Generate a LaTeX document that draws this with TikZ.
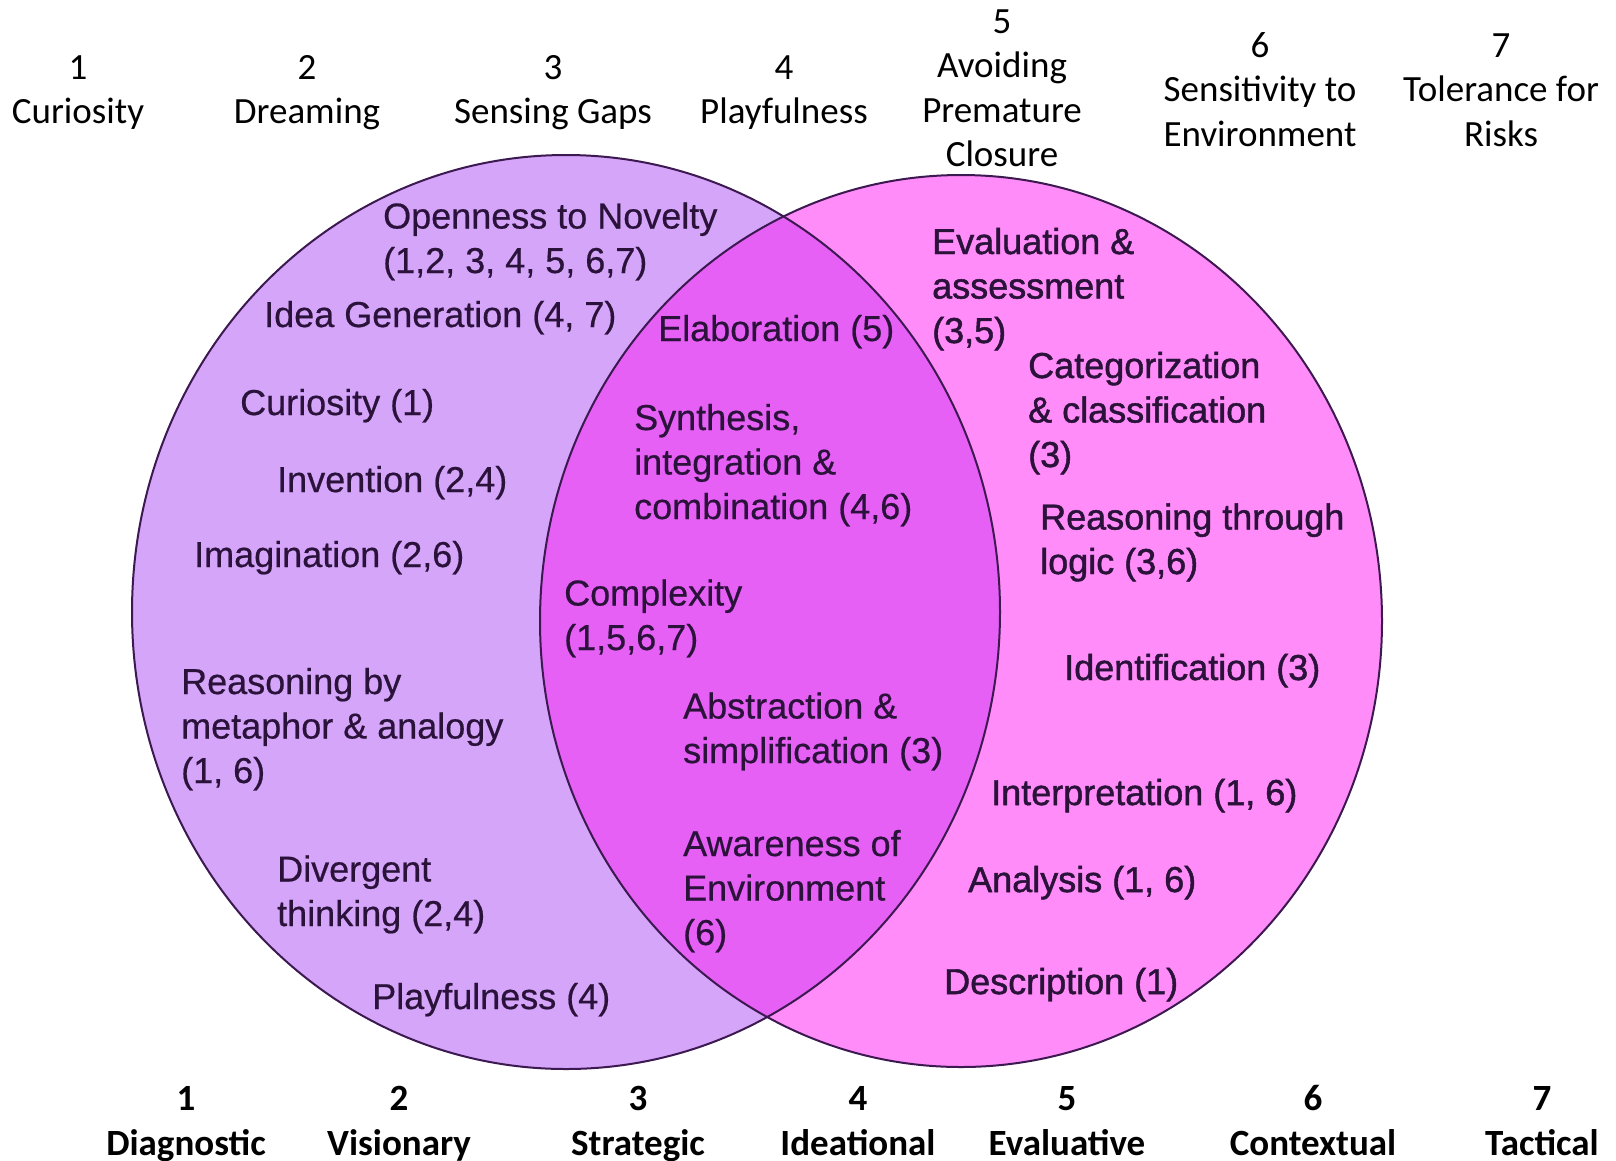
\documentclass[tikz,border=0pt]{standalone}
\usepackage{fontspec}
\setmainfont{Carlito}
\newfontfamily\arialf[FakeBold=0.5]{Liberation Sans}
\newfontfamily\arialfb[FakeBold=1.3]{Liberation Sans}
\definecolor{leftfill}{RGB}{213,165,250}
\definecolor{midfill}{RGB}{230,96,246}
\definecolor{rightfill}{RGB}{255,140,248}
\definecolor{edgec}{RGB}{60,25,80}
\definecolor{textc}{RGB}{42,18,58}
\begin{document}
\begin{tikzpicture}[x=1pt,y=-1pt,
  toplab/.style={align=center,inner sep=0pt,anchor=base,font=\fontsize{37}{44.5}\selectfont},
  botlab/.style={align=center,inner sep=0pt,anchor=base,font=\fontsize{37}{44.5}\selectfont\bfseries},
  intxt/.style={align=left,inner sep=0pt,anchor=base west,text=textc,font=\arialf\fontsize{36}{44.5}\selectfont},
  rtxt/.style={intxt,font=\arialfb\fontsize{36}{44.5}\selectfont},
  ring/.style={draw=edgec,line width=2pt}]
\useasboundingbox (0,0) rectangle (1616,1160);
\fill[white] (0,0) rectangle (1616,1160);
% circles
\coordinate (cl) at (566,612);
\coordinate (cr) at (961,621);
\fill[leftfill] (cl) ellipse[x radius=434,y radius=457];
\fill[rightfill] (cr) ellipse[x radius=421,y radius=446];
\begin{scope}
  \clip (cl) ellipse[x radius=434,y radius=457];
  \fill[midfill] (cr) ellipse[x radius=421,y radius=446];
\end{scope}
\draw[ring] (cl) ellipse[x radius=434,y radius=457];
\draw[ring] (cr) ellipse[x radius=421,y radius=446];
% top labels (anchor = baseline of last line)
\node[toplab] (t1) at (78,123.5) {1\\Curiosity};
\node[toplab] (t2) at (307,123.5) {2\\Dreaming};
\node[toplab] (t3) at (553,123.5) {3\\Sensing Gaps};
\node[toplab] (t4) at (784,123.5) {4\\Playfulness};
\node[toplab] (t5) at (1002,166.5) {5\\Avoiding\\Premature\\Closure};
\node[toplab] (t6) at (1260,146) {6\\Sensitivity to\\Environment};
\node[toplab] (t7) at (1501,146) {7\\Tolerance for\\Risks};
% bottom labels
\node[botlab] (b1) at (186,1155) {1\\Diagnostic};
\node[botlab] (b2) at (399,1155) {2\\Visionary};
\node[botlab] (b3) at (638,1155) {3\\Strategic};
\node[botlab] (b4) at (858,1155) {4\\Ideational};
\node[botlab] (b5) at (1067,1155) {5\\Evaluative};
\node[botlab] (b6) at (1313,1155) {6\\Contextual};
\node[botlab] (b7) at (1542,1155) {7\\Tactical};
% left circle texts
\node[intxt] (l1) at (383,273) {Openness to Novelty\\(1,2, 3, 4, 5, 6,7)};
\node[intxt] (l2) at (264,327) {Idea Generation (4, 7)};
\node[intxt] (l3) at (240,415) {Curiosity (1)};
\node[intxt] (l4) at (277,492) {Invention (2,4)};
\node[intxt] (l5) at (194,567) {Imagination (2,6)};
\node[intxt] (l6) at (181,783) {Reasoning by\\metaphor \& analogy\\(1, 6)};
\node[intxt] (l7) at (277,926) {Divergent\\thinking (2,4)};
\node[intxt] (l8) at (372,1009) {Playfulness (4)};
% intersection texts
\node[intxt] (m1) at (658,341) {Elaboration (5)};
\node[intxt] (m2) at (634,519) {Synthesis,\\integration \&\\combination (4,6)};
\node[intxt] (m3) at (564,650) {Complexity\\(1,5,6,7)};
\node[intxt] (m4) at (683,763) {Abstraction \&\\simplification (3)};
\node[intxt] (m5) at (683,945) {Awareness of\\Environment\\(6)};
% right circle texts
\node[rtxt] (r1) at (932,343) {Evaluation \&\\assessment\\(3,5)};
\node[rtxt] (r2) at (1028,467) {Categorization\\\& classification\\(3)};
\node[rtxt] (r3) at (1040,574) {Reasoning through\\logic (3,6)};
\node[rtxt] (r4) at (1064,680) {Identification (3)};
\node[rtxt] (r5) at (991,805) {Interpretation (1, 6)};
\node[rtxt] (r6) at (968,892) {Analysis (1, 6)};
\node[rtxt] (r7) at (944,994) {Description (1)};
\end{tikzpicture}
\end{document}
